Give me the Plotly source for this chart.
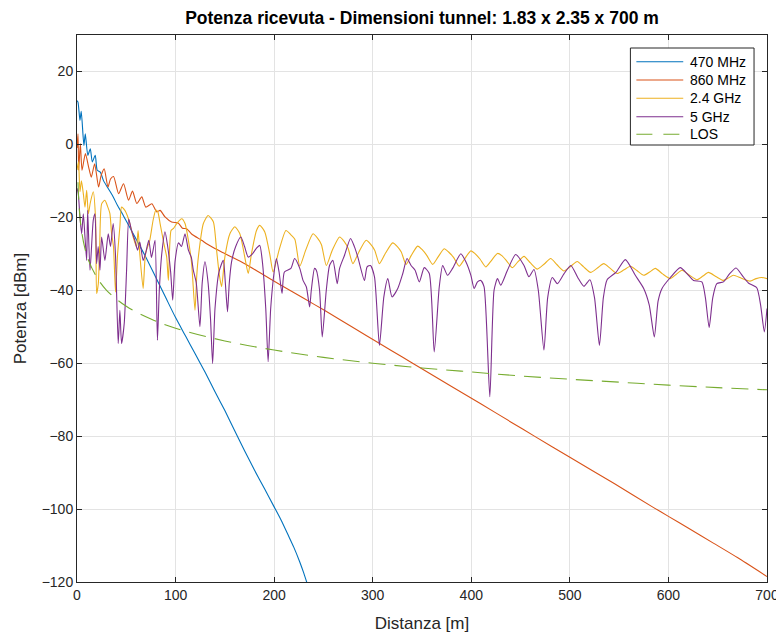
import plotly.graph_objects as go

# ---------------- data ----------------
x_470 = [0, 1, 3, 4.3, 7, 8.4, 11, 13.5, 15.5, 18.5, 20.5, 23.6, 27, 31, 36, 41, 46, 51, 56,
         61, 70, 80, 90, 100, 110, 120, 130, 140, 150, 160, 170, 180, 190, 200, 207,
         214, 220, 226, 230, 233, 236]
y_470 = [12, 11.6, 6.6, 9.1, -0.3, 2.9, -3, -1.2, -4.8, -3, -7.1, -7.6, -10, -11.8, -14,
         -16.7, -19, -21.5, -24, -26.5, -31, -36.5, -42, -47.5, -52.5, -57.5, -62.5, -67.8,
         -73, -78.5, -84, -89.3, -94.3, -99.4, -103, -107, -110.5, -114.5, -117.5, -120,
         -122.5]

x_860 = [0, 1, 1.7, 3.4, 5.1, 8.5, 11.8, 14.5, 17.9, 21.9, 24.5, 27.6, 31.4, 34, 37.1, 42.2,
         47.2, 52.3, 56.3, 60.7, 65.7, 69.8, 75.9, 80.9, 84.3, 89.3, 96, 102.9, 107, 111.3,
         116, 126.4, 135, 146.7, 158, 170.2, 187, 207, 230, 251, 280, 307, 330, 349, 380,
         410, 440, 464, 500, 545, 585, 600, 620, 646, 670, 700]
y_860 = [-1, 2.9, -7.1, 0.2, -7.1, -2.5, -6.2, -9, -5.3, -11.7, -8.5, -6.7, -11.7, -9.5,
         -8.8, -13.5, -10.8, -15.3, -12.8, -16.2, -14.4, -17.2, -16.3, -18.5, -18.1, -19.9,
         -21.3, -21.6, -23.0, -23.1, -24.5, -26.3, -27.8, -29.5, -31, -32.7, -35.4, -38.6,
         -42.2, -45.5, -50.2, -54.6, -58.3, -61.4, -66.4, -71.2, -76.1, -80.0, -85.8, -93,
         -99.6, -102, -105.2, -109.4, -113.3, -118.5]

x_24 = [0, 1.5, 3, 4.5, 6.4, 8.1, 9.8, 11.5, 13.5, 16.5, 18.9, 19.9, 21.6, 23, 25, 28.3, 31,
        33.4, 35.1, 37, 39.1, 41.2, 43.5, 45.2, 48.6, 51, 53.6, 57, 60.4, 62, 63.7, 67.1,
        69.5, 73.8, 77.2, 80, 82, 84.3, 88, 91, 92.7, 95.4, 98, 101.2, 106.2, 109.6, 113,
        116.3, 119.7, 121.5, 123.1, 128.2, 133, 138.3, 141.6, 144.5, 146.7, 150, 155.1,
        160.1, 165.2, 170.2, 173.7, 177, 182.1, 185.4, 190.5, 195.5, 199, 205, 212, 217,
        221, 226, 232, 239.4, 244, 248, 252.9, 259, 266.4, 271, 275, 279.9, 286, 293.3,
        298, 302, 306.8, 313, 320.3, 325, 329, 333.8, 339, 345.6, 350, 355, 360.8, 366,
        372.5, 377, 382, 387.7, 393, 399.6, 404, 409, 414.7, 420, 426.6, 431, 436, 441.7,
        447, 453.5, 460, 467, 474, 480.5, 487, 494, 501, 507.5, 514, 521, 528, 534.4, 541,
        548, 555, 561.4, 568, 575, 581, 586.7, 594, 601.9, 608, 613.7, 621, 628.9, 635,
        640.6, 648, 655.8, 661, 665.9, 674, 682.8, 689, 694.6, 700]
y_24 = [-7, -4.8, -13, -10, -13.5, -17.2, -12.6, -19, -16, -13, -20.8, -40.9, -38.2, -28,
        -16.3, -15.3, -17, -19, -24.5, -28, -40.5, -30, -22.6, -17.2, -18.1, -19.5, -21.7,
        -25.4, -28.1, -23.6, -30, -39.5, -30, -26.3, -20.8, -18, -18.5, -21.7, -27, -30.9,
        -37.3, -23.6, -23, -21.7, -20.4, -21.7, -26.3, -32.7, -45.5, -36, -30.9, -21.7,
        -19.5, -21.2, -29, -36, -39, -30.9, -24.5, -22.6, -24.5, -30.9, -35.4, -30, -23.6,
        -22.2, -24, -30, -35, -29, -23.6, -24.8, -26, -33.4, -29, -24.5, -25.7, -27.5,
        -33.2, -29, -25.4, -26.6, -28.5, -32.7, -29.5, -26.3, -27.4, -29, -32.7, -29.8,
        -27, -28, -29.5, -32.9, -30.5, -27.9, -28.8, -30.5, -32.9, -31, -28.6, -29.5, -31,
        -33.4, -31.5, -29.2, -30, -31.5, -33.6, -32, -29.9, -30.5, -32, -33.8, -32.3,
        -30.7, -32.5, -34.2, -32.8, -31.3, -33, -34.7, -33.4, -32.1, -33.6, -35.1, -33.9,
        -32.7, -34, -35.4, -34.4, -33.4, -34.6, -35.9, -35, -34, -35.5, -36.8, -35.6,
        -34.5, -35.8, -37.1, -36.1, -35.1, -36.2, -37.3, -36.6, -35.9, -36.7, -37.5,
        -36.8, -36.5, -36.8]

x_5 = [0, 1.3, 3, 4.7, 6.4, 8.1, 9.8, 10.8, 13.2, 16.5, 18.2, 19.9, 21.5, 23.3, 25, 28.3,
       31.7, 34, 36.7, 39, 41.8, 43.5, 45.2, 47.9, 50.3, 52.5, 55.3, 58.7, 61.4, 63.7, 67.1,
       69.5, 72.8, 75.5, 77.2, 79.2, 81.6, 83.5, 86, 89.3, 92, 95, 97.1, 99.5, 103, 106,
       109.6, 113, 116, 118, 121, 124.7, 127, 129.8, 133, 135.5, 137.6, 140, 144, 148.4,
       150.5, 152.7, 154.5, 156.8, 161, 166.2, 170, 173.7, 178, 182, 185.4, 188, 191.5,
       193.9, 196.5, 200, 202.3, 205, 208, 210.4, 217, 220.8, 226, 229.3, 232.7, 236,
       237.7, 241, 242.8, 246.1, 248.8, 252.9, 256.2, 259.6, 264, 266.4, 271.4, 277.5,
       281.5, 284.9, 291.6, 294.3, 297.7, 301.8, 306.8, 311.3, 315.3, 319.6, 325.4, 330.5,
       334.8, 338.9, 343, 347.3, 352.3, 357.4, 362.4, 367.5, 371, 375.9, 381, 389.4,
       394.5, 399.6, 402.9, 406.3, 409.7, 413, 418.8, 423.1, 426.6, 429.9, 436.7, 445,
       453.5, 458.5, 463.6, 468, 473.7, 477.5, 482.2, 487.3, 494, 501, 508, 514.2, 520.3,
       525, 530, 534, 537.8, 547, 556.3, 566.4, 574.9, 580.5, 585.7, 589.5, 593.5, 602,
       612, 619, 625.4, 633.9, 637.5, 641.3, 645, 649.1, 655.8, 662, 668.6, 675, 681.1,
       689.6, 693.5, 697.3, 700]
y_5 = [-12, -13.5, -20, -24.5, -19, -25.4, -31.8, -18.1, -34.5, -20.8, -19, -32.7, -28,
       -34.5, -25.4, -31.8, -24.5, -28, -21.7, -30, -54.6, -45.5, -54.6, -49.1, -34.5,
       -20.5, -23.6, -26.3, -29, -26.8, -31.8, -30, -26.3, -31, -29, -26.3, -53.7, -40, -30,
       -24, -28, -35, -42.7, -32, -27, -28, -24.5, -29, -31, -34.5, -38, -50, -38, -32.2,
       -38, -48, -60.1, -45, -35, -31.8, -38, -45.9, -38, -32.2, -28, -25.4, -28, -30.9,
       -30, -28.5, -27.7, -32, -45, -59.6, -45, -35, -31.3, -35, -40.9, -35, -34, -31.3,
       -34, -37.3, -39.1, -44.6, -40, -34, -34.5, -40, -52.8, -40, -33.2, -31.8, -38.2,
       -34, -30.4, -25.8, -28.1, -30.9, -37.3, -33.6, -33.2, -36.3, -55.1, -41.8, -36.8,
       -41.8, -39.5, -35.4, -31.3, -33.2, -34.5, -37.7, -33.8, -35.4, -56.9, -39.1, -33.2,
       -35.9, -34, -30, -32.2, -35.9, -39.5, -37.7, -37.3, -39.1, -69.2, -40, -36.8,
       -38.6, -34.5, -30.2, -33.2, -36.3, -34.3, -40, -56.4, -42, -36.5, -38.2, -35.5,
       -33.2, -36.5, -38.9, -37.1, -42, -55.1, -42, -37.1, -35, -31.6, -35.9, -39.5, -44,
       -52.8, -43, -39.5, -36.5, -33.8, -35.5, -37.3, -37.7, -42, -50.2, -42, -38.2,
       -37.7, -35.5, -33.9, -36, -38, -39.3, -44, -51.4, -45]

x_los = [1, 2, 3, 5, 8, 12, 20, 30, 50, 75, 100, 150, 200, 250, 300, 350, 400, 450, 500,
         550, 600, 650, 700]
y_los = [-10.4, -16.4, -20, -24.4, -28.5, -32, -36.4, -40, -44.4, -47.9, -50.4, -53.9,
         -56.4, -58.4, -60, -61.3, -62.4, -63.5, -64.4, -65.2, -66, -66.7, -67.3]

names = ["470 MHz", "860 MHz", "2.4 GHz", "5 GHz", "LOS"]
colors = ["#0072BD", "#D95319", "#EDB120", "#7E2F8E", "#77AC30"]

x_ticks = [0, 100, 200, 300, 400, 500, 600, 700]
y_ticks = [-120, -100, -80, -60, -40, -20, 0, 20]

# ---------------- geometry (figure pixels) ----------------
W, H = 784, 637
ML, MR, MT, MB = 67, 25, 27, 63
PW, PH = W - ML - MR, H - MT - MB


def px_x(fx):
    return (fx - ML) / PW


def px_y(fy):
    return (H - MB - fy) / PH


# ---------------- figure ----------------
fig = go.Figure()
series = [(x_470, y_470), (x_860, y_860), (x_24, y_24), (x_5, y_5)]
for (xs, ys), nm, col in zip(series, names[:4], colors[:4]):
    fig.add_trace(go.Scatter(x=xs, y=ys, mode="lines", name=nm, showlegend=False,
                             line=dict(color=col, width=1.1, shape="spline", smoothing=0.6)))
fig.add_trace(go.Scatter(x=x_los, y=y_los, mode="lines", name=names[4], showlegend=False,
                         line=dict(color=colors[4], width=1.1, dash="17px,9px",
                                   shape="spline")))

# legend box drawn MATLAB-style (box, sample lines, labels)
shapes = [dict(type="rect", xref="paper", yref="paper", layer="above",
               x0=px_x(622), x1=px_x(746), y0=px_y(137), y1=px_y(40),
               line=dict(color="#262626", width=1), fillcolor="white")]
annotations = []
row_y = [53.7, 72, 90.3, 108.7, 126.3]
for i, (nm, col) in enumerate(zip(names, colors)):
    yy = px_y(row_y[i])
    shapes.append(dict(type="line", xref="paper", yref="paper", layer="above",
                       x0=px_x(628), x1=px_x(675), y0=yy, y1=yy,
                       line=dict(color=col, width=1.1,
                                 dash="16px,11px" if nm == "LOS" else "solid")))
    annotations.append(dict(text=nm, xref="paper", yref="paper", x=px_x(680), y=yy,
                            xanchor="left", yanchor="middle", showarrow=False,
                            font=dict(size=14, color="#000000")))

axis_common = dict(showgrid=True, gridcolor="#e3e3e3", gridwidth=1, zeroline=False,
                   showline=True, linecolor="#262626", linewidth=1, mirror="allticks",
                   ticks="inside", ticklen=5, tickcolor="#262626",
                   tickfont=dict(size=14, color="#262626"))

fig.update_layout(
    width=W, height=H,
    margin=dict(l=ML, r=MR, t=MT, b=MB),
    paper_bgcolor="white", plot_bgcolor="white",
    font=dict(family="Liberation Sans, Arial, Helvetica, sans-serif", color="#262626"),
    title=dict(text="<b>Potenza ricevuta - Dimensioni tunnel: 1.83 x 2.35 x 700 m</b>",
               x=0.5, xref="paper", xanchor="center", y=1 - 10 / H, yref="container",
               yanchor="middle", font=dict(size=17.5, color="#000000")),
    xaxis=dict(range=[0, 700], tickvals=x_ticks,
               title=dict(text="Distanza [m]", font=dict(size=17), standoff=15),
               **axis_common),
    yaxis=dict(range=[-120, 30], tickvals=y_ticks,
               title=dict(text="Potenza [dBm]", font=dict(size=17), standoff=10),
               **axis_common),
    shapes=shapes,
    annotations=annotations,
    showlegend=False,
)

fig.write_html("out.html")
